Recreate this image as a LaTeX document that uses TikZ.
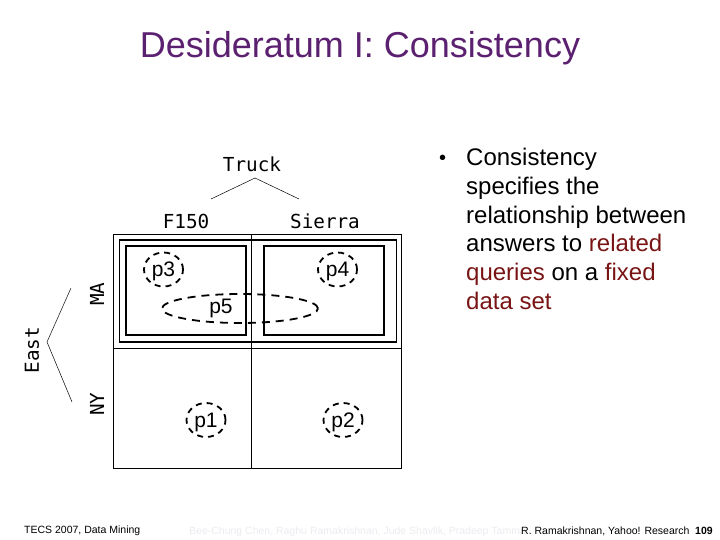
\documentclass[tikz,border=0pt]{standalone}
\usepackage{fontspec}
\setmainfont{Liberation Sans}
\setmonofont{DejaVu Sans Mono}
\usetikzlibrary{shapes.geometric}
\definecolor{titlepurple}{RGB}{92,32,112}
\definecolor{redword}{RGB}{120,20,20}
\definecolor{footgray}{RGB}{235,235,240}
\tikzset{
  thin box/.style={draw, line width=0.9pt},
  thick box/.style={draw, line width=1.8pt},
  region/.style={draw, ellipse, line width=1.8pt, dash pattern=on 6pt off 5pt, inner sep=0pt},
  plabel/.style={font=\fontsize{21}{21}\selectfont, inner sep=0pt},
  axis/.style={font=\ttfamily\fontsize{19.3}{19.3}\selectfont, inner sep=0pt},
  branch/.style={line width=0.5pt},
  foot/.style={font=\fontsize{10.5}{11}\selectfont, inner sep=0pt}
}
\begin{document}
\begin{tikzpicture}[x=1pt, y=-1pt]
  \useasboundingbox (0,0) rectangle (720,540);

  \node (title) at (360,48.5) [inner sep=0pt, text=titlepurple, font=\fontsize{36}{40}\selectfont] {Desideratum I: Consistency};

  \node[axis] (truck) at (252,164) {Truck};
  \node[axis] (f150) at (186,221) {F150};
  \node[axis] (sierra) at (325,221) {Sierra};
  \node[axis, rotate=90] (ma) at (97,294) {MA};
  \node[axis, rotate=90] (ny) at (97,404) {NY};
  \node[axis, rotate=90] (east) at (32,350) {East};

  \coordinate (truckroot) at (255,178);
  \coordinate (truckl) at (211,199);
  \coordinate (truckr) at (299,199);
  \draw[branch] (truckl) -- (truckroot) -- (truckr);
  \coordinate (eastroot) at (47,342);
  \coordinate (eastt) at (71,288);
  \coordinate (eastb) at (72,402);
  \draw[branch] (eastt) -- (eastroot) -- (eastb);

  % grid
  \node[thin box, minimum width=288pt, minimum height=233.5pt, inner sep=0pt] (grid) at (257.5,351.25) {};
  \coordinate (gridt) at (251.5,234.5);
  \coordinate (gridb) at (251.5,468);
  \coordinate (gridl) at (113.5,348);
  \coordinate (gridr) at (401.5,348);
  \draw[line width=0.9pt] (gridt) -- (gridb);
  \draw[line width=0.9pt] (gridl) -- (gridr);

  \node[thick box, minimum width=277pt, minimum height=102pt, inner sep=0pt] (maband) at (258,291) {};
  \node[thick box, minimum width=120pt, minimum height=89pt, inner sep=0pt] (mal) at (186,290.5) {};
  \node[thick box, minimum width=120pt, minimum height=89pt, inner sep=0pt] (mar) at (324,290.5) {};

  \node[region, minimum width=39pt, minimum height=34pt] (p3) at (163.5,269.5) {};
  \node[plabel] (p3text) at (163.5,271) {p3};
  \node[region, minimum width=39pt, minimum height=34pt] (p4) at (337.5,269.5) {};
  \node[plabel] (p4text) at (337.5,271) {p4};
  \node[region, minimum width=156pt, minimum height=29pt, dash pattern=on 8pt off 6pt] (p5) at (240,308.5) {};
  \node[plabel] (p5text) at (221,308) {p5};
  \node[region, minimum width=39pt, minimum height=34pt] (p1) at (206,420) {};
  \node[plabel] (p1text) at (206,422) {p1};
  \node[region, minimum width=39pt, minimum height=34pt] (p2) at (343,420) {};
  \node[plabel] (p2text) at (343,422) {p2};

  \node (bullet) at (442.5,160) [inner sep=0pt, font=\fontsize{20}{20}\selectfont] {•};
  \node (points) at (466,229) [anchor=west, inner sep=0pt, align=left, font=\fontsize{24}{28.8}\selectfont] {Consistency\\specifies the\\relationship between\\answers to \textcolor{redword}{related}\\\textcolor{redword}{queries} on a \textcolor{redword}{fixed}\\\textcolor{redword}{data set}};

  \node[foot, anchor=west] (footl) at (24,531) {TECS 2007, Data Mining};
  \node[foot, anchor=west, text=footgray] (footm) at (189,532) {Bee-Chung Chen, Raghu Ramakrishnan, Jude Shavlik, Pradeep Tamma};
  \node[foot, anchor=west] (footr) at (521,531) {R. Ramakrishnan, Yahoo! Research};
  \node[foot, anchor=west, font=\fontsize{10.5}{11}\bfseries] (page) at (695,531) {109};
\end{tikzpicture}
\end{document}
